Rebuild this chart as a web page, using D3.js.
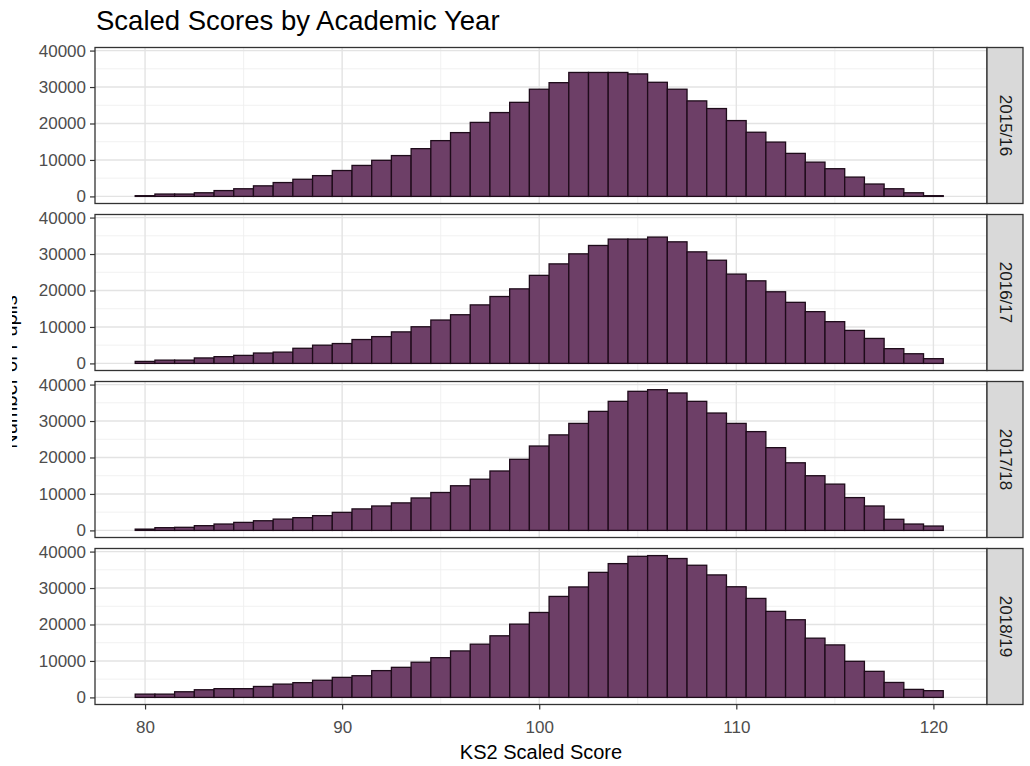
<!DOCTYPE html>
<html>
<head>
<meta charset="utf-8">
<script src="https://cdn.jsdelivr.net/npm/d3@7"></script>
<style>
  body { margin: 0; background: #fff; }
  svg { display: block; }
  text { font-family: "Liberation Sans", Arial, sans-serif; }
</style>
</head>
<body>
<svg id="chart" width="1030" height="766"></svg>
<script>
// KS2 scaled score bins (bar centres, binwidth 1)
const scores = [80, 81, 82, 83, 84, 85, 86, 87, 88, 89, 90, 91, 92, 93, 94, 95, 96, 97, 98, 99, 100,
                101, 102, 103, 104, 105, 106, 107, 108, 109, 110, 111, 112, 113, 114, 115, 116, 117, 118, 119, 120];

const years = ["2015/16", "2016/17", "2017/18", "2018/19"];

// Pupil counts per scaled score, one array per academic year
const counts201516 = [200, 650, 650, 1000, 1600, 2100, 2900, 3800, 4700, 5700, 7100, 8500, 9900, 11200, 13100, 15300, 17500, 20300, 23000, 25800, 29400,
                      31200, 34000, 34000, 34000, 33600, 31300, 29400, 26200, 24100, 20800, 17600, 14900, 11800, 9400, 7600, 5300, 3400, 2100, 1000, 200];
const counts201617 = [550, 900, 900, 1500, 1850, 2200, 2850, 3100, 4150, 5000, 5450, 6550, 7350, 8650, 10050, 11900, 13350, 16050, 18350, 20450, 24150,
                      27300, 30050, 32350, 34100, 34100, 34650, 33350, 30600, 28300, 24500, 22650, 19650, 16750, 14200, 11450, 9050, 6850, 4050, 2650, 1300];
const counts201718 = [350, 750, 850, 1300, 1750, 2200, 2650, 3100, 3500, 4050, 4950, 5900, 6700, 7550, 8900, 10400, 12250, 14050, 16300, 19500, 23150,
                      26200, 29350, 32650, 35400, 38150, 38600, 37700, 35400, 32200, 29350, 27100, 22700, 18550, 15000, 12700, 9000, 6700, 3050, 1750, 1200];
const counts201819 = [900, 900, 1550, 2100, 2400, 2400, 3000, 3650, 4050, 4700, 5500, 5950, 7350, 8250, 9650, 10900, 12750, 14600, 16900, 20100, 23300,
                      27700, 30300, 34300, 36700, 38700, 38900, 38100, 36250, 33600, 30350, 27150, 23600, 21300, 16250, 14400, 9900, 7150, 4100, 2200, 1850];

const xTicks = [80, 90, 100, 110, 120];
const xMinor = [85, 95, 105, 115];
const yTicks = [0, 10000, 20000, 30000, 40000];
const yMinor = [5000, 15000, 25000, 35000];

const series = [counts201516, counts201617, counts201718, counts201819];

// Layout
const panelLeft = 95, panelRight = 987, stripW = 36;
const panelTop0 = 47.5, panelH = 156, panelStep = 167;

const fillColor = "#6d3f67";
const barStroke = "#1e0b1a";
const borderColor = "#333333";
const gridMajor = "#e3e3e3";
const gridMinor = "#efefef";

const svg = d3.select("#chart");

const x = d3.scaleLinear().domain([77.46, 122.72]).range([panelLeft, panelRight]);

// Shared y scale across facets, 5% expansion on both ends
const yMax = d3.max(series, s => d3.max(s));
const pad = yMax * 0.05;

// Title
svg.append("text")
  .attr("x", panelLeft + 1)
  .attr("y", 30)
  .attr("font-size", 27.5)
  .attr("fill", "#000")
  .text("Scaled Scores by Academic Year");

series.forEach((vals, i) => {
  const top = panelTop0 + i * panelStep;
  const bottom = top + panelH;
  const y = d3.scaleLinear().domain([-pad, yMax + pad]).range([bottom, top]);
  const g = svg.append("g");

  // panel background
  g.append("rect")
    .attr("x", panelLeft).attr("y", top)
    .attr("width", panelRight - panelLeft).attr("height", panelH)
    .attr("fill", "#fff");

  // minor grid
  g.selectAll(".vminor").data(xMinor).join("line")
    .attr("x1", d => x(d)).attr("x2", d => x(d))
    .attr("y1", top).attr("y2", bottom)
    .attr("stroke", gridMinor).attr("stroke-width", 0.9);
  g.selectAll(".hminor").data(yMinor).join("line")
    .attr("x1", panelLeft).attr("x2", panelRight)
    .attr("y1", d => y(d)).attr("y2", d => y(d))
    .attr("stroke", gridMinor).attr("stroke-width", 0.9);

  // major grid
  g.selectAll(".vmajor").data(xTicks).join("line")
    .attr("x1", d => x(d)).attr("x2", d => x(d))
    .attr("y1", top).attr("y2", bottom)
    .attr("stroke", gridMajor).attr("stroke-width", 1.4);
  g.selectAll(".hmajor").data(yTicks).join("line")
    .attr("x1", panelLeft).attr("x2", panelRight)
    .attr("y1", d => y(d)).attr("y2", d => y(d))
    .attr("stroke", gridMajor).attr("stroke-width", 1.4);

  // histogram bars
  g.selectAll(".bar").data(scores.map((s, k) => ({ s, v: vals[k] }))).join("rect")
    .attr("x", d => x(d.s - 0.5))
    .attr("width", d => x(d.s + 0.5) - x(d.s - 0.5))
    .attr("y", d => y(d.v))
    .attr("height", d => y(0) - y(d.v))
    .attr("fill", fillColor)
    .attr("stroke", barStroke)
    .attr("stroke-width", 1.3);

  // panel border
  g.append("rect")
    .attr("x", panelLeft).attr("y", top)
    .attr("width", panelRight - panelLeft).attr("height", panelH)
    .attr("fill", "none").attr("stroke", borderColor).attr("stroke-width", 1.3);

  // strip
  g.append("rect")
    .attr("x", panelRight).attr("y", top)
    .attr("width", stripW).attr("height", panelH)
    .attr("fill", "#d9d9d9").attr("stroke", borderColor).attr("stroke-width", 1.3);
  g.append("text")
    .attr("transform", `translate(${panelRight + stripW / 2 - 5},${top + panelH / 2}) rotate(90)`)
    .attr("text-anchor", "middle")
    .attr("font-size", 17)
    .attr("fill", "#1a1a1a")
    .text(years[i]);

  // y axis
  const ya = g.append("g")
    .attr("transform", `translate(${panelLeft},0)`)
    .call(d3.axisLeft(y).tickValues(yTicks).tickSize(5).tickPadding(4).tickFormat(d3.format("d")));
  ya.select(".domain").remove();
  ya.selectAll(".tick line").attr("stroke", borderColor).attr("stroke-width", 1.2);
  ya.selectAll(".tick text").attr("fill", "#4d4d4d").attr("font-size", 17)
    .style("font-family", "'Liberation Sans', Arial, sans-serif");

  // x axis on the bottom panel only
  if (i === series.length - 1) {
    const xa = g.append("g")
      .attr("transform", `translate(0,${bottom})`)
      .call(d3.axisBottom(x).tickValues(xTicks).tickSize(5).tickPadding(11));
    xa.select(".domain").remove();
    xa.selectAll(".tick line").attr("stroke", borderColor).attr("stroke-width", 1.2);
    xa.selectAll(".tick text").attr("fill", "#4d4d4d").attr("font-size", 17)
      .style("font-family", "'Liberation Sans', Arial, sans-serif");
  }
});

// axis titles
const lastBottom = panelTop0 + (series.length - 1) * panelStep + panelH;
svg.append("text")
  .attr("x", (panelLeft + panelRight) / 2)
  .attr("y", lastBottom + 54)
  .attr("text-anchor", "middle")
  .attr("font-size", 20)
  .attr("fill", "#000")
  .text("KS2 Scaled Score");

// y title sits mostly beyond the left edge of the drawing area
svg.append("clipPath").attr("id", "ytitle-clip")
  .append("rect").attr("x", 12).attr("y", 0).attr("width", 30).attr("height", 766);
svg.append("g")
  .attr("clip-path", "url(#ytitle-clip)")
  .append("text")
  .attr("transform", `translate(17,372) rotate(-90)`)
  .attr("text-anchor", "middle")
  .attr("font-size", 20)
  .attr("fill", "#000")
  .text("Number of Pupils");
</script>
</body>
</html>
